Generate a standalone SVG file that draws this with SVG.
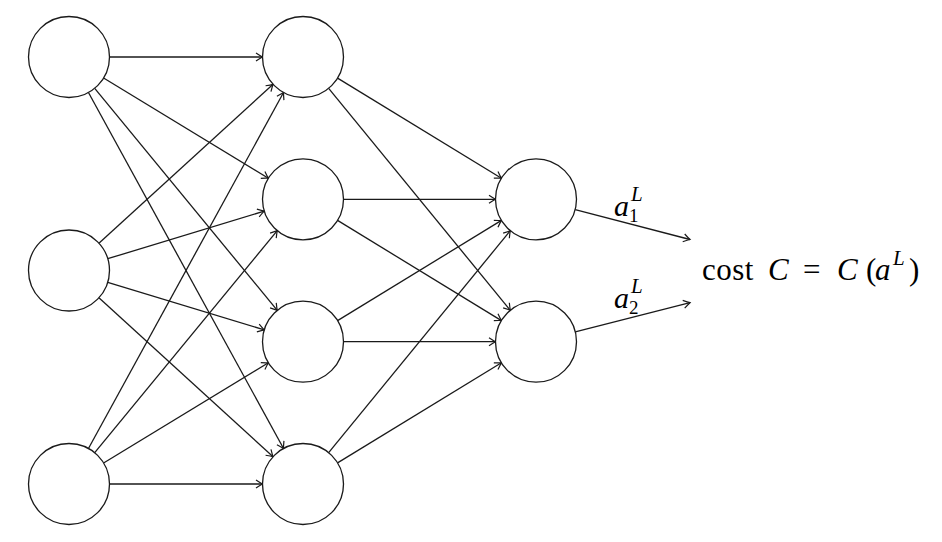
<svg xmlns="http://www.w3.org/2000/svg" width="942" height="542" viewBox="0 0 942 542">
<style>
.n{fill:#fff;stroke:#1a1a1a;stroke-width:1.3}
.e{fill:none;stroke:#1a1a1a;stroke-width:1.3;marker-end:url(#arr)}
.t{font-family:"Liberation Serif","DejaVu Serif",serif;fill:#000}
.i{font-style:italic}
</style>
<defs>
<marker id="arr" markerUnits="userSpaceOnUse" viewBox="-8 -5 10 10" refX="0" refY="0" markerWidth="10" markerHeight="10" orient="auto">
<path d="M-6.5,-4 Q-2,-1 0,0 Q-2,1 -6.5,4" fill="none" stroke="#1a1a1a" stroke-width="1.2"/>
</marker>
</defs>
<g id="connectors">
<line class="e" x1="109.5" y1="57" x2="262.5" y2="57"/>
<line class="e" x1="103.6" y1="78.04" x2="268.4" y2="178.26"/>
<line class="e" x1="94.72" y1="88.29" x2="277.28" y2="310.41"/>
<line class="e" x1="88.46" y1="92.52" x2="283.54" y2="448.48"/>
<line class="e" x1="98.92" y1="243.2" x2="273.08" y2="84.3"/>
<line class="e" x1="107.75" y1="258.71" x2="264.25" y2="211.09"/>
<line class="e" x1="107.75" y1="282.29" x2="264.25" y2="329.91"/>
<line class="e" x1="98.92" y1="297.8" x2="273.08" y2="456.7"/>
<line class="e" x1="109.5" y1="484" x2="262.5" y2="484"/>
<line class="e" x1="103.6" y1="462.96" x2="268.4" y2="362.74"/>
<line class="e" x1="94.72" y1="452.71" x2="277.28" y2="230.59"/>
<line class="e" x1="88.46" y1="448.48" x2="283.54" y2="92.52"/>
<line class="e" x1="337.56" y1="78.11" x2="501.44" y2="178.19"/>
<line class="e" x1="328.65" y1="88.34" x2="510.35" y2="310.36"/>
<line class="e" x1="343.5" y1="199.3" x2="495.5" y2="199.3"/>
<line class="e" x1="337.56" y1="220.41" x2="501.44" y2="320.59"/>
<line class="e" x1="337.56" y1="320.59" x2="501.44" y2="220.41"/>
<line class="e" x1="343.5" y1="341.7" x2="495.5" y2="341.7"/>
<line class="e" x1="328.65" y1="452.66" x2="510.35" y2="230.64"/>
<line class="e" x1="337.56" y1="462.89" x2="501.44" y2="362.81"/>
<line class="e" x1="575.19" y1="209.53" x2="690" y2="239.5"/>
<line class="e" x1="575.26" y1="331.76" x2="690" y2="302.7"/>
</g>
<g id="n11"><circle class="n" cx="69" cy="57" r="40.5"/></g>
<g id="n12"><circle class="n" cx="69" cy="270.5" r="40.5"/></g>
<g id="n13"><circle class="n" cx="69" cy="484" r="40.5"/></g>
<g id="n21"><circle class="n" cx="303" cy="57" r="40.5"/></g>
<g id="n22"><circle class="n" cx="303" cy="199.3" r="40.5"/></g>
<g id="n23"><circle class="n" cx="303" cy="341.7" r="40.5"/></g>
<g id="n24"><circle class="n" cx="303" cy="484" r="40.5"/></g>
<g id="n31"><circle class="n" cx="536" cy="199.3" r="40.5"/></g>
<g id="n32"><circle class="n" cx="536" cy="341.7" r="40.5"/></g>
<g id="labels">
<text class="t i" x="614" y="216" font-size="30">a</text>
<text class="t i" x="631" y="201" font-size="21">L</text>
<text class="t" x="629" y="222" font-size="19">1</text>
<text class="t i" x="614" y="308" font-size="30">a</text>
<text class="t i" x="631" y="293" font-size="21">L</text>
<text class="t" x="629" y="314" font-size="19">2</text>
</g>
<g id="cost">
<text class="t" x="702" y="280" font-size="31" letter-spacing="0.5">cost</text>
<text class="t i" x="768" y="280" font-size="31">C</text>
<text class="t" x="803" y="280" font-size="31">=</text>
<text class="t i" x="837" y="280" font-size="31">C</text>
<text class="t" x="866" y="280" font-size="31">(</text>
<text class="t i" x="875" y="280" font-size="31">a</text>
<text class="t i" x="893" y="265" font-size="21">L</text>
<text class="t" x="909" y="280" font-size="31">)</text>
</g>
</svg>
